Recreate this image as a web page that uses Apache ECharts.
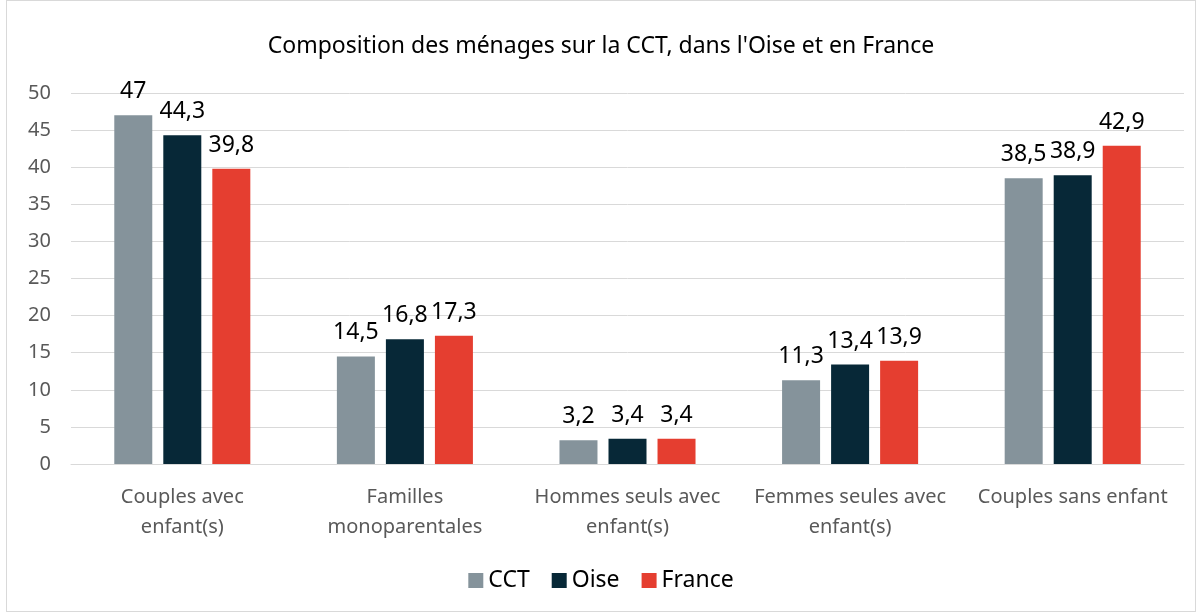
<!DOCTYPE html>
<html>
<head>
<meta charset="utf-8">
<script src="https://cdn.jsdelivr.net/npm/echarts@6/dist/echarts.min.js"></script>
<style>
  html, body { margin: 0; padding: 0; background: #fff; }
  #chart { position: absolute; left: 6px; top: 0; width: 1190px; height: 612px; border: 1px solid #d9d9d9; box-sizing: border-box; }
</style>
</head>
<body>
<div id="chart"></div>
<script>
const categories = [
  "Couples avec\nenfant(s)",
  "Familles\nmonoparentales",
  "Hommes seuls avec\nenfant(s)",
  "Femmes seules avec\nenfant(s)",
  "Couples sans enfant"
];
const cct = [47, 14.5, 3.2, 11.3, 38.5];
const oise = [44.3, 16.8, 3.4, 13.4, 38.9];
const france = [39.8, 17.3, 3.4, 13.9, 42.9];
const seriesNames = ["CCT", "Oise", "France"];
const colors = ["#85939b", "#072837", "#e53e30"];

const font = "Noto Sans, Open Sans, sans-serif";
const chart = echarts.init(document.getElementById("chart"));

const makeSeries = (name, data, color) => ({
  name: name,
  type: "bar",
  data: data,
  barWidth: 38,
  barGap: "29%",
  itemStyle: { color: color },
  label: {
    show: true,
    position: "top",
    distance: 12,
    color: "#000",
    fontSize: 23,
    fontFamily: font,
    formatter: (p) => String(p.value).replace(".", ",")
  }
});

chart.setOption({
  animation: false,
  title: {
    text: "Composition des ménages sur la CCT, dans l'Oise et en France",
    left: "center",
    top: 29,
    textStyle: { fontSize: 23, fontWeight: "normal", color: "#000", fontFamily: font }
  },
  legend: {
    bottom: 14,
    left: "center",
    itemWidth: 15,
    itemHeight: 15,
    itemGap: 22,
    icon: "rect",
    textStyle: { fontSize: 23, color: "#000", fontFamily: font },
    data: seriesNames
  },
  grid: { left: 64, right: 11, top: 92, bottom: 147 },
  xAxis: {
    type: "category",
    data: categories,
    axisLine: { lineStyle: { color: "#d9d9d9" } },
    axisTick: { show: false },
    axisLabel: { color: "#595959", fontSize: 20, fontFamily: font, margin: 18, lineHeight: 30, interval: 0 }
  },
  yAxis: {
    type: "value",
    min: 0,
    max: 50,
    interval: 5,
    axisLine: { show: false },
    axisTick: { show: false },
    splitLine: { lineStyle: { color: "#d9d9d9" } },
    axisLabel: { color: "#595959", fontSize: 20, fontFamily: font, margin: 20 }
  },
  series: [
    makeSeries(seriesNames[0], cct, colors[0]),
    makeSeries(seriesNames[1], oise, colors[1]),
    makeSeries(seriesNames[2], france, colors[2])
  ]
});
</script>
</body>
</html>
